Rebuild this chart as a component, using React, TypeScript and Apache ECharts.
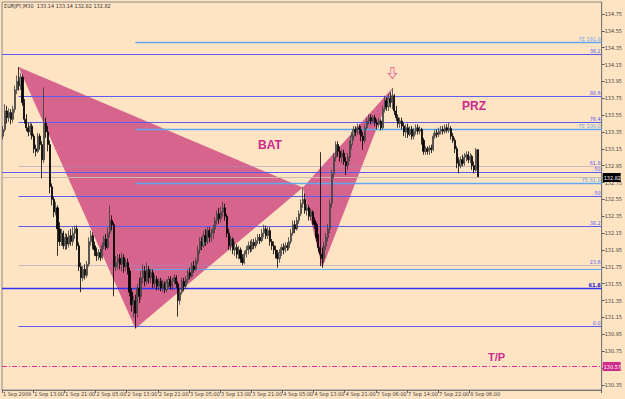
import React, { useEffect, useRef } from "react";
import * as echarts from "echarts";

// ---- data ----
const headerText = "EURJPY,M30  133.14 133.14 132.82 132.82";
const timeLabels = [
  "1 Sep 2009", "1 Sep 13:00", "1 Sep 21:00", "2 Sep 05:00", "2 Sep 13:00", "2 Sep 21:00",
  "3 Sep 05:00", "3 Sep 13:00", "3 Sep 21:00", "4 Sep 05:00", "4 Sep 13:00", "4 Sep 21:00",
  "7 Sep 06:00", "7 Sep 14:00", "7 Sep 22:00", "8 Sep 06:00",
];
const barsPerLabel = 16;
const totalSlots = 308;
const priceTicks = [
  134.75, 134.55, 134.35, 134.15, 133.95, 133.75, 133.55, 133.35, 133.15, 132.95, 132.75, 132.55,
  132.35, 132.15, 131.95, 131.75, 131.55, 131.35, 131.15, 130.95, 130.75, 130.55, 130.35,
];
// 130.55 is hidden behind the T/P price box in the reference
const hiddenTickLabels = [130.55];
const priceMin = 130.289;
const priceMax = 134.892;

// [open, close, low, high] per M30 bar
const candles = [
  [133.30,133.38,133.26,133.42],[133.38,133.60,133.35,133.68],[133.60,133.52,133.45,133.66],[133.52,133.58,133.47,133.63],[133.58,133.50,133.44,133.62],
  [133.50,133.62,133.46,133.66],[133.62,133.85,133.58,133.90],[133.85,133.95,133.80,134.02],[133.95,133.90,133.84,134.12],[133.90,134.00,133.85,134.05],
  [134.00,133.70,133.66,134.03],[133.70,133.50,133.45,133.74],[133.50,133.40,133.36,133.56],[133.40,133.35,133.30,133.46],[133.35,133.42,133.31,133.46],
  [133.42,133.30,133.26,133.45],[133.30,133.15,133.10,133.33],[133.15,133.12,133.06,133.20],[133.12,133.30,133.10,133.34],[133.30,133.20,133.14,133.33],
  [133.20,133.02,132.80,133.24],[133.02,133.45,132.98,133.88],[133.45,133.35,133.28,133.52],[133.35,133.20,133.12,133.42],[133.20,132.70,132.62,133.25],
  [132.70,132.55,132.48,132.74],[132.55,132.40,132.34,132.58],[132.40,132.45,132.36,132.52],[132.45,132.20,131.88,132.48],[132.20,132.05,132.00,132.28],
  [132.05,132.15,132.00,132.20],[132.15,132.00,131.96,132.18],[132.00,132.10,131.95,132.15],[132.10,132.02,131.96,132.14],[132.02,132.12,131.98,132.18],
  [132.12,132.05,132.00,132.20],[132.05,132.15,132.00,132.22],[132.15,132.20,132.08,132.24],[132.20,132.00,131.95,132.24],[132.00,131.75,131.70,132.04],
  [131.75,131.62,131.45,131.80],[131.62,131.72,131.58,131.76],[131.72,131.65,131.60,131.78],[131.65,131.78,131.62,131.82],[131.78,132.05,131.75,132.10],
  [132.05,132.12,132.00,132.18],[132.12,132.00,131.96,132.16],[132.00,131.95,131.88,132.05],[131.95,131.88,131.82,131.98],[131.88,131.92,131.83,131.96],
  [131.92,131.86,131.82,131.96],[131.86,132.00,131.84,132.04],[132.00,132.08,131.96,132.12],[132.08,131.98,131.95,132.14],[131.98,132.15,131.96,132.22],
  [132.15,132.30,132.10,132.48],[132.30,132.25,132.18,132.36],[132.25,131.75,131.40,132.28],[131.75,131.80,131.70,131.88],[131.80,131.85,131.72,131.90],
  [131.85,131.78,131.72,131.90],[131.78,131.86,131.70,131.92],[131.86,131.75,131.68,131.90],[131.75,131.80,131.70,131.84],[131.80,131.70,131.66,131.85],
  [131.70,131.45,131.40,131.74],[131.45,131.30,131.22,131.50],[131.30,131.35,131.15,131.40],[131.35,131.20,131.02,131.42],[131.20,131.50,131.15,131.55],
  [131.50,131.40,131.32,131.62],[131.40,131.62,131.36,131.70],[131.62,131.70,131.55,131.78],[131.70,131.58,131.52,131.76],[131.58,131.72,131.54,131.80],
  [131.72,131.62,131.55,131.76],[131.62,131.68,131.56,131.72],[131.68,131.55,131.50,131.72],[131.55,131.60,131.50,131.66],[131.60,131.52,131.47,131.64],
  [131.52,131.58,131.47,131.62],[131.58,131.50,131.46,131.62],[131.50,131.55,131.45,131.60],[131.55,131.48,131.44,131.58],[131.48,131.56,131.45,131.60],
  [131.56,131.60,131.50,131.64],[131.60,131.52,131.48,131.64],[131.52,131.58,131.47,131.62],[131.58,131.62,131.54,131.66],[131.62,131.55,131.50,131.65],
  [131.55,131.35,131.16,131.58],[131.35,131.45,131.30,131.50],[131.45,131.58,131.42,131.62],[131.58,131.52,131.46,131.62],[131.52,131.60,131.48,131.64],
  [131.60,131.68,131.56,131.72],[131.68,131.64,131.60,131.74],[131.64,131.76,131.62,131.80],[131.76,131.72,131.68,131.82],[131.72,131.82,131.70,131.86],
  [131.82,131.95,131.78,132.00],[131.95,132.05,131.90,132.10],[132.05,132.00,131.95,132.10],[132.00,132.12,131.98,132.18],[132.12,132.05,132.00,132.20],
  [132.05,132.18,132.02,132.22],[132.18,132.10,132.04,132.22],[132.10,132.15,132.05,132.20],[132.15,132.20,132.08,132.25],[132.20,132.30,132.15,132.34],
  [132.30,132.38,132.25,132.42],[132.38,132.32,132.26,132.45],[132.32,132.40,132.28,132.46],[132.40,132.45,132.35,132.52],[132.45,132.35,132.30,132.50],
  [132.35,132.15,132.10,132.38],[132.15,132.00,131.95,132.20],[132.00,132.08,131.94,132.12],[132.08,131.95,131.90,132.10],[131.95,131.98,131.88,132.04],
  [131.98,131.90,131.85,132.02],[131.90,131.95,131.84,132.00],[131.95,131.85,131.80,131.98],[131.85,131.80,131.77,131.90],[131.80,131.90,131.78,131.94],
  [131.90,131.95,131.86,132.00],[131.95,132.00,131.90,132.05],[132.00,131.96,131.92,132.06],[131.96,132.04,131.93,132.08],[132.04,132.00,131.96,132.08],
  [132.00,132.06,131.97,132.10],[132.06,132.10,132.02,132.14],[132.10,132.06,132.02,132.14],[132.06,132.15,132.04,132.20],[132.15,132.20,132.10,132.25],
  [132.20,132.12,132.08,132.24],[132.12,132.18,132.08,132.22],[132.18,132.05,132.00,132.22],[132.05,132.00,131.95,132.08],[132.00,131.95,131.90,132.05],
  [131.95,131.90,131.85,132.00],[131.90,131.85,131.74,131.95],[131.85,131.92,131.80,131.96],[131.92,131.98,131.88,132.02],[131.98,131.95,131.90,132.03],
  [131.95,132.00,131.92,132.04],[132.00,131.98,131.94,132.04],[131.98,132.05,131.95,132.10],[132.05,132.15,132.02,132.20],[132.15,132.25,132.12,132.30],
  [132.25,132.20,132.15,132.30],[132.20,132.30,132.18,132.34],[132.30,132.38,132.26,132.42],[132.38,132.50,132.35,132.55],[132.50,132.55,132.45,132.69],
  [132.55,132.42,132.38,132.62],[132.42,132.45,132.36,132.50],[132.45,132.35,132.30,132.48],[132.35,132.40,132.30,132.44],[132.40,132.30,132.25,132.42],
  [132.30,132.25,132.20,132.34],[132.25,132.10,132.05,132.28],[132.10,131.98,131.92,132.14],[131.98,131.90,131.76,133.11],[131.90,131.85,131.74,131.98],
  [131.85,132.00,131.80,132.05],[132.00,132.10,131.95,132.15],[132.10,132.20,132.05,132.26],[132.20,132.50,132.15,132.55],[132.50,132.85,132.45,132.90],
  [132.85,133.05,132.80,133.10],[133.05,133.20,133.00,133.24],[133.20,133.12,133.06,133.24],[133.12,133.05,133.00,133.18],[133.05,133.10,132.98,133.14],
  [133.10,133.00,132.96,133.14],[133.00,132.95,132.84,133.05],[132.95,133.05,132.90,133.10],[133.05,133.20,133.00,133.25],[133.20,133.30,133.15,133.35],
  [133.30,133.38,133.25,133.42],[133.38,133.35,133.30,133.42],[133.35,133.40,133.32,133.45],[133.40,133.38,133.32,133.44],[133.38,133.30,133.24,133.42],
  [133.30,133.25,133.14,133.35],[133.25,133.40,133.22,133.44],[133.40,133.48,133.38,133.52],[133.48,133.52,133.44,133.56],[133.52,133.48,133.44,133.56],
  [133.48,133.52,133.45,133.55],[133.52,133.46,133.42,133.55],[133.46,133.44,133.38,133.50],[133.44,133.48,133.40,133.52],[133.48,133.40,133.37,133.50],
  [133.40,133.62,133.38,133.66],[133.62,133.72,133.58,133.78],[133.72,133.65,133.60,133.76],[133.65,133.75,133.60,133.80],[133.75,133.70,133.64,133.82],
  [133.70,133.78,133.62,133.87],[133.78,133.60,133.55,133.80],[133.60,133.52,133.48,133.66],[133.52,133.45,133.40,133.56],[133.45,133.48,133.40,133.52],
  [133.48,133.42,133.38,133.52],[133.42,133.35,133.30,133.46],[133.35,133.40,133.28,133.44],[133.40,133.32,133.28,133.45],[133.32,133.38,133.30,133.42],
  [133.38,133.30,133.26,133.42],[133.30,133.36,133.26,133.40],[133.36,133.40,133.32,133.44],[133.40,133.36,133.32,133.44],[133.36,133.38,133.32,133.42],
  [133.38,133.25,133.20,133.40],[133.25,133.12,133.08,133.28],[133.12,133.15,133.08,133.18],[133.15,133.12,133.08,133.18],[133.12,133.16,133.08,133.19],
  [133.16,133.14,133.10,133.20],[133.14,133.30,133.12,133.34],[133.30,133.34,133.27,133.38],[133.34,133.32,133.28,133.38],[133.32,133.36,133.29,133.40],
  [133.36,133.38,133.32,133.42],[133.38,133.36,133.32,133.42],[133.36,133.40,133.33,133.44],[133.40,133.37,133.34,133.44],[133.37,133.39,133.34,133.46],
  [133.39,133.30,133.26,133.42],[133.30,133.25,133.22,133.34],[133.25,133.15,133.10,133.28],[133.15,132.98,132.92,133.18],[132.98,132.95,132.86,133.05],
  [132.95,133.02,132.92,133.06],[133.02,132.98,132.94,133.08],[132.98,133.05,132.95,133.10],[133.05,133.08,133.00,133.12],[133.08,133.02,132.98,133.12],
  [133.02,133.06,132.98,133.10],[133.06,132.95,132.90,133.08],[132.95,132.90,132.86,133.00],[132.90,133.14,132.88,133.16],[133.14,132.82,132.82,133.14],
];

// BAT pattern pivots X, A, B, C, D
const pivotBars = [8, 68, 154, 164, 200];
const pivotPrices = [134.12, 131.02, 132.69, 131.74, 133.87];
const patternTriangles = [[0, 1, 2], [2, 3, 4]];
const arrowBar = 200;
const arrowPrice = 134.05;

// Fibonacci retracement of X-A (drawn from X)
const retraceLabels = ["88.6", "76.4", "61.8", "50", "38.2", "23.6", "0.0"];
const retraceValues = [133.78, 133.47, 132.95, 132.59, 132.23, 131.77, 131.05];
// Fibonacci expansion (drawn from A)
const expansionLabels = ["FE 161.8", "FE 100.0", "FE 61.8", ""];
const expansionValues = [134.42, 133.39, 132.75, 131.73];
// full-width retracement levels
const outerLabels = ["38.2", "50", "61.8"];
const outerValues = [134.27, 132.87, 131.50];
const currentPrice = 132.82;
const takeProfit = 130.57;

// ---- styling ----
const BG = "#ffe4c4";
const FONT = "'Liberation Sans Narrow', 'DejaVu Sans Condensed', 'Liberation Sans', sans-serif";
const FIB = "#5c5cf2";
const FE = "#5fa8ee";
const DOT = "#9a90c8";
const PINK = "#cc2a8c";

type Level = {
  start: number | null;
  value: number;
  label: string;
  color: string;
  labelColor: string;
  width: number;
  dash: number[] | null;
  bold?: boolean;
  box?: string;
};

export default function App() {
  const ref = useRef<HTMLDivElement>(null);

  useEffect(() => {
    if (!ref.current) return;
    const chart = echarts.init(ref.current, null, { renderer: "svg" });

    const categories = Array.from({ length: totalSlots }, (_, i) =>
      i % barsPerLabel === 0 && i / barsPerLabel < timeLabels.length ? timeLabels[i / barsPerLabel] : ""
    );
    const showLabel = (i: number) => i % barsPerLabel === 0 && i / barsPerLabel < timeLabels.length;
    const labelTicks = priceTicks.filter((v) => !hiddenTickLabels.includes(v));

    const levels: Level[] = [];
    retraceValues.forEach((v, k) => {
      const dotted = retraceLabels[k] === "61.8" || retraceLabels[k] === "23.6";
      levels.push({
        start: pivotBars[0], value: v, label: retraceLabels[k],
        color: dotted ? DOT : FIB, labelColor: FIB, width: dotted ? 1.2 : 1, dash: dotted ? [1, 1] : null,
      });
    });
    expansionValues.forEach((v, k) => {
      levels.push({
        start: pivotBars[1], value: v, label: expansionLabels[k],
        color: FE, labelColor: FE, width: expansionLabels[k] ? 1.6 : 1, dash: null,
      });
    });
    outerValues.forEach((v, k) => {
      const strong = outerLabels[k] === "61.8";
      levels.push({
        start: null, value: v, label: outerLabels[k],
        color: strong ? "#3030f0" : FIB, labelColor: strong ? "#2020d0" : FIB,
        width: strong ? 1.3 : 1, dash: null, bold: strong,
      });
    });
    levels.push({ start: null, value: currentPrice, label: "", color: "#cbbcae", labelColor: "#000", width: 1, dash: null, box: "#000000" });
    levels.push({ start: null, value: takeProfit, label: "", color: "#dc2a96", labelColor: "#000", width: 1, dash: [5, 2, 1, 2], box: "#d02a8c" });

    const option: any = {
      animation: false,
      backgroundColor: BG,
      grid: {
        left: 2,
        right: 19,
        top: 2,
        bottom: 9,
        show: true,
        borderColor: "#8a8a8a",
        borderWidth: 1,
      },
      xAxis: {
        type: "category",
        data: categories,
        boundaryGap: true,
        axisLine: { show: true, lineStyle: { color: "#7a7a7a" } },
        axisTick: { show: true, interval: (i: number) => showLabel(i), length: 3, lineStyle: { color: "#606060" } },
        axisLabel: {
          interval: (i: number) => showLabel(i),
          align: "left",
          fontSize: 5.5,
          fontFamily: FONT,
          color: "#404040",
          margin: 1,
        },
        splitLine: { show: false },
      },
      yAxis: {
        type: "value",
        position: "right",
        min: priceMin,
        max: priceMax,
        axisLine: { show: true, lineStyle: { color: "#7a7a7a" } },
        axisTick: { show: true, customValues: priceTicks, length: 3, lineStyle: { color: "#606060" } },
        axisLabel: {
          customValues: labelTicks,
          formatter: (v: number) => v.toFixed(2),
          fontSize: 5.5,
          fontFamily: FONT,
          color: "#404040",
          margin: 3,
        },
        splitLine: { show: false },
      },
      graphic: [
        { type: "text", left: 4, top: 3, style: { text: headerText, fontSize: 5.5, fontFamily: FONT, fill: "#333" } },
        { type: "text", left: 258, top: 139, style: { text: "BAT", fontSize: 12, fontWeight: "bold", fontFamily: "'Liberation Sans', Arial, sans-serif", fill: PINK } },
        { type: "text", left: 462, top: 100, style: { text: "PRZ", fontSize: 12, fontWeight: "bold", fontFamily: "'Liberation Sans', Arial, sans-serif", fill: PINK } },
        { type: "text", left: 488, top: 351, style: { text: "T/P", fontSize: 11, fontWeight: "bold", fontFamily: "'Liberation Sans', Arial, sans-serif", fill: PINK } },
      ],
      series: [
        {
          type: "custom",
          name: "pattern",
          coordinateSystem: "cartesian2d",
          z: 1,
          silent: true,
          data: patternTriangles.map((t) => [pivotBars[t[0]], pivotPrices[t[0]]]),
          encode: { x: 0, y: 1 },
          renderItem: (params: any, api: any) => {
            const tri = patternTriangles[params.dataIndex];
            const points = tri.map((k) => api.coord([pivotBars[k], pivotPrices[k]]));
            return {
              type: "polygon",
              shape: { points },
              style: { fill: "rgba(206, 72, 128, 0.82)", stroke: "none" },
            };
          },
        },
        {
          type: "custom",
          name: "levels",
          coordinateSystem: "cartesian2d",
          z: 2,
          silent: true,
          clip: false,
          data: levels.map((l, i) => [l.start == null ? 0 : l.start, l.value, i]),
          encode: { x: 0, y: 1 },
          renderItem: (params: any, api: any) => {
            const lv = levels[params.dataIndex];
            const cs = params.coordSys;
            const yRaw = api.coord([0, lv.value])[1];
            const y = Math.round(yRaw) + 0.5;
            const x0 = lv.start == null ? cs.x : api.coord([lv.start, lv.value])[0];
            const x1 = cs.x + cs.width;
            const children: any[] = [
              {
                type: "line",
                shape: { x1: x0, y1: y, x2: x1, y2: y },
                style: { stroke: lv.color, lineWidth: lv.width, lineDash: lv.dash || undefined, fill: null },
              },
            ];
            if (lv.label) {
              children.push({
                type: "text",
                x: x1 - 1,
                y: y - 1,
                style: {
                  text: lv.label,
                  fill: lv.labelColor,
                  fontSize: 5.5,
                  fontFamily: FONT,
                  fontWeight: lv.bold ? "bold" : "normal",
                  align: "right",
                  verticalAlign: "bottom",
                },
              });
            }
            if (lv.box) {
              children.push({
                type: "rect",
                shape: { x: x1 + 1, y: y - 4.5, width: 18, height: 9 },
                style: { fill: lv.box },
              });
              children.push({
                type: "text",
                x: x1 + 2,
                y: y,
                style: {
                  text: lv.value.toFixed(2),
                  fill: "#ffffff",
                  fontSize: 5.5,
                  fontFamily: FONT,
                  align: "left",
                  verticalAlign: "middle",
                },
              });
            }
            return { type: "group", children };
          },
        },
        {
          type: "candlestick",
          name: "EURJPY",
          z: 3,
          data: candles,
          barWidth: 1.6,
          itemStyle: {
            color: "#8f8a80",
            color0: "#000000",
            borderColor: "#3c3c3c",
            borderColor0: "#000000",
            borderWidth: 0.8,
          },
        },
        {
          type: "scatter",
          name: "arrow",
          z: 4,
          data: [[arrowBar, arrowPrice]],
          symbol: "path://M3,0 L7,0 L7,6 L10,6 L5,11 L0,6 L3,6 Z",
          symbolSize: [8, 11],
          itemStyle: { color: "rgba(0,0,0,0)", borderColor: "#e0508e", borderWidth: 1 },
          silent: true,
        },
      ],
    };

    chart.setOption(option);
    return () => chart.dispose();
  }, []);

  return (
    <div
      ref={ref}
      style={{ position: "absolute", left: 0, top: 0, width: 625, height: 399, background: BG }}
    />
  );
}
